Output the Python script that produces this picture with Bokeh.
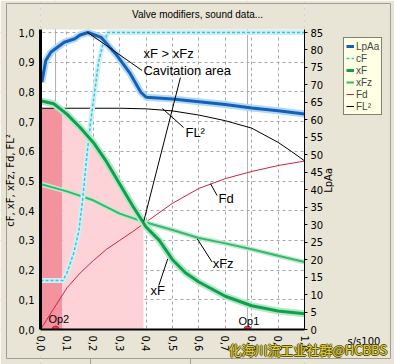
import numpy as np
from bokeh.plotting import figure
from bokeh.models import (Range1d, LinearAxis, FixedTicker, CustomJSTickFormatter,
                          Label, Legend, LegendItem, Span)
from bokeh.embed import file_html
from bokeh.resources import INLINE

# ---------------- data ----------------
lp_x = [0.005, 0.02, 0.04, 0.09, 0.13, 0.15, 0.18, 0.23, 0.29, 0.34, 0.38, 0.40, 0.5, 0.6, 0.7, 0.8, 0.9, 1.0]
lp_y = [70.8, 77.0, 79.4, 82.2, 83.2, 84.3, 85.0, 83.6, 78.4, 73.2, 67.9, 66.5, 66.0, 65.2, 64.4, 63.4, 62.6, 61.7]

cf_x = [0.0, 0.085, 0.10, 0.125, 0.145, 0.16, 0.175, 0.19, 0.205, 0.22, 0.235, 0.255, 1.0]
cf_y = [0.165, 0.165, 0.19, 0.255, 0.33, 0.44, 0.58, 0.70, 0.80, 0.90, 0.955, 1.0, 1.0]

xf_x = [0.0, 0.05, 0.1, 0.15, 0.2, 0.25, 0.3, 0.35, 0.4, 0.45, 0.5, 0.55, 0.6, 0.7, 0.8, 0.9, 1.0]
xf_y = [0.77, 0.76, 0.725, 0.68, 0.63, 0.565, 0.49, 0.415, 0.345, 0.30, 0.235, 0.19, 0.16, 0.112, 0.08, 0.062, 0.053]

xfz_x = [0.0, 0.1, 0.2, 0.3, 0.4, 0.5, 0.6, 0.7, 0.8, 0.9, 1.0]
xfz_y = [0.49, 0.465, 0.435, 0.39, 0.36, 0.335, 0.308, 0.29, 0.27, 0.248, 0.227]

fd_x = [0.0, 0.05, 0.1, 0.15, 0.2, 0.25, 0.3, 0.35, 0.4, 0.5, 0.6, 0.7, 0.8, 0.9, 1.0]
fd_y = [0.0, 0.07, 0.14, 0.19, 0.232, 0.27, 0.30, 0.33, 0.362, 0.425, 0.475, 0.508, 0.532, 0.552, 0.567]

fl2_x = [0.0, 0.1, 0.2, 0.3, 0.4, 0.5, 0.6, 0.7, 0.8, 0.9, 0.95, 1.0]
fl2_y = [0.745, 0.745, 0.745, 0.745, 0.743, 0.736, 0.722, 0.703, 0.678, 0.63, 0.60, 0.568]

cav_dark = [0.0, 0.083]     # choked part of cavitation area (s/s100)
cav_light = [0.083, 0.39]   # xF > xFz part

op_names = ["Op2", "Op1"]
op_x = [0.057, 0.784]

x_ticks = [0.0, 0.1, 0.2, 0.3, 0.4, 0.5, 0.6, 0.7, 0.8, 0.9, 1.0]
y_ticks = [0.0, 0.1, 0.2, 0.3, 0.4, 0.5, 0.6, 0.7, 0.8, 0.9, 1.0]
lp_ticks = list(range(0, 90, 5))
LP_MAX = 85.0

# ---------------- figure ----------------
BG = "#e8e5d6"
TF = "DejaVu Sans"
AF = "Liberation Sans"

W, H = 394, 364
PL, PB, PW, PH = 40, 329, 264, 297           # plot area: left px, bottom px, px per unit
X0, X1 = -PL / PW, (W - PL) / PW              # frame covers the whole canvas
Y0, Y1 = -(H - PB) / PH, PB / PH
YTOP = 1.01

def px(v):
    return (v - PL) / PW

def py(v):
    return (PB - v) / PH

p = figure(width=W, height=H, output_backend="svg", toolbar_location=None,
           x_range=Range1d(X0, X1), y_range=Range1d(Y0, Y1),
           min_border=0, min_border_left=0, min_border_right=0,
           min_border_top=0, min_border_bottom=0,
           background_fill_color="white", border_fill_color=BG, outline_line_color=None)
p.extra_y_ranges = {"lp": Range1d(Y0 * LP_MAX, Y1 * LP_MAX)}

fmt = CustomJSTickFormatter(code="return tick.toFixed(1).replace('.', ',');")

p.xaxis.fixed_location = 0
p.xaxis.bounds = (0, 1.0)
p.xaxis.ticker = FixedTicker(ticks=x_ticks)
p.xaxis.formatter = fmt
p.xaxis.major_label_orientation = "vertical"
p.xaxis.major_tick_out = 0
p.xaxis.major_tick_in = 0
p.xaxis.minor_tick_out = 0
p.xaxis.minor_tick_in = 0
p.xaxis.axis_line_width = 2
p.xaxis.major_label_standoff = 6
p.xaxis.major_label_text_font = TF
p.xaxis.major_label_text_font_size = "10px"
p.xaxis.major_label_text_color = "black"

p.yaxis.fixed_location = 0
p.yaxis.bounds = (0, YTOP)
p.yaxis.ticker = FixedTicker(ticks=y_ticks)
p.yaxis.formatter = fmt
p.yaxis.major_tick_out = 0
p.yaxis.major_tick_in = 0
p.yaxis.minor_tick_out = 0
p.yaxis.minor_tick_in = 0
p.yaxis.axis_line_width = 3
p.yaxis.major_label_standoff = 6
p.yaxis.major_label_text_font = TF
p.yaxis.major_label_text_font_size = "10px"
p.yaxis.major_label_text_color = "black"

ra = LinearAxis(y_range_name="lp", ticker=FixedTicker(ticks=lp_ticks),
                fixed_location=1.0, bounds=(0, YTOP * LP_MAX))
ra.major_tick_out = 3
ra.major_tick_in = 0
ra.minor_tick_out = 0
ra.minor_tick_in = 0
ra.major_label_standoff = 3
ra.major_label_text_font = TF
ra.major_label_text_font_size = "10px"
ra.major_label_text_color = "black"
p.add_layout(ra, "right")

for g in (p.xgrid, p.ygrid):
    g.grid_line_color = "#a6a6a6"
    g.grid_line_dash = "3 3"
    g.grid_line_width = 1
p.xgrid.ticker = FixedTicker(ticks=x_ticks)
p.ygrid.ticker = FixedTicker(ticks=y_ticks)

# operating point verticals
for xo in op_x:
    p.add_layout(Span(location=xo, dimension="height", line_color="#b0b0b0",
                      line_width=1, level="underlay"))

# cavitation areas
xd = np.linspace(cav_dark[0], cav_dark[1], 20)
p.varea(x=xd, y1=0, y2=np.interp(xd, fl2_x, fl2_y), fill_color="#f2939f")
xl = np.linspace(cav_light[0], cav_light[1], 60)
p.varea(x=xl, y1=0, y2=np.minimum(np.interp(xl, xf_x, xf_y), np.interp(xl, fl2_x, fl2_y)),
        fill_color="#fdd3d8")

# curves
r_fd = p.line(fd_x, fd_y, line_color="#c8283c", line_width=1)
r_fl = p.line(fl2_x, fl2_y, line_color="black", line_width=1)
p.line(xfz_x, xfz_y, line_color="#bfead0", line_width=5)
r_xfz = p.line(xfz_x, xfz_y, line_color="#38b86a", line_width=2)
p.line(cf_x, cf_y, line_color="#cdeff5", line_width=5)
r_cf = p.line(cf_x, cf_y, line_color="#3cc4d6", line_width=1.5, line_dash="3 2")
p.line(xf_x, xf_y, line_color="#b6e6c8", line_width=7)
r_xf = p.line(xf_x, xf_y, line_color="#0fa04e", line_width=3)
p.line(lp_x, lp_y, y_range_name="lp", line_color="#b2d8f4", line_width=7)
r_lp = p.line(lp_x, lp_y, y_range_name="lp", line_color="#1460b8", line_width=3)

p.scatter(op_x, [0, 0], size=7, fill_color="#e8404c", line_color="#c02030")

# pointer lines of the annotations
p.segment(x0=[0.177, 0.530, 0.462, 0.644, 0.594, 0.482],
          y0=[1.001, 0.848, 0.744, 0.491, 0.305, 0.238],
          x1=[0.385, 0.391, 0.542, 0.669, 0.650, 0.448],
          y1=[0.872, 0.364, 0.680, 0.451, 0.227, 0.148],
          line_color="black", line_width=1)

# window background outside the plotting area
p.quad(left=[X0, 1.0, 0.0, 0.0], right=[0.0, X1, 1.0, 1.0],
       bottom=[Y0, Y0, Y0, YTOP], top=[Y1, Y1, 0.0, Y1],
       fill_color=BG, line_color=None)

# window frame / status bar lines
p.segment(x0=[px(6), px(6), px(390), px(6), px(90), px(190)],
          y0=[py(3), py(3), py(3), py(358), py(358), py(358)],
          x1=[px(390), px(6), px(390), px(390), px(90), px(190)],
          y1=[py(3), py(358), py(358), py(358), py(364), py(364)],
          line_color="#a09e94", line_width=1)

def lab(x, y, t, size="13px", font=AF, align="left", color="black", angle=0, **kw):
    p.add_layout(Label(x=x, y=y, text=t, text_font=font, text_font_size=size,
                       text_align=align, text_baseline="middle", text_color=color,
                       angle=angle, **kw))

lab(0.390, 0.930, "xF > xFz")
lab(0.390, 0.873, "Cavitation area")
lab(0.549, 0.662, "FL²")
lab(0.674, 0.441, "Fd")
lab(0.652, 0.222, "xFz")
lab(0.417, 0.131, "xF")
lab(0.030, 0.034, op_names[0], size="11px")
lab(0.750, 0.030, op_names[1], size="11px")

# titles
lab(0.595, 1.061, "Valve modifiers, sound data...", size="10px", align="center")
lab(-0.112, 0.502, "cF, xF, xFz, Fd, FL²", size="10px", font=TF, align="center", angle=np.pi / 2)
lab(1.091, 0.502, "LpAa", size="10px", font=TF, align="center", angle=np.pi / 2)
lab(1.163, -0.040, "s/s100", size="10px", font=TF)

# watermark
wm = "化海川流工业社群@HCBBS"
for dx, dy in [(-1, 0), (1, 0), (0, -1), (0, 1)]:
    lab(0.712, -0.067, wm, size="13px", font="Noto Sans CJK SC", color="#5c5410",
        x_offset=dx, y_offset=dy)
lab(0.712, -0.067, wm, size="13px", font="Noto Sans CJK SC", color="#e2d23a")

legend = Legend(items=[LegendItem(label="LpAa", renderers=[r_lp]),
                       LegendItem(label="cF", renderers=[r_cf]),
                       LegendItem(label="xF", renderers=[r_xf]),
                       LegendItem(label="xFz", renderers=[r_xfz]),
                       LegendItem(label="Fd", renderers=[r_fd]),
                       LegendItem(label="FL²", renderers=[r_fl])],
                location=(343, H - 115), orientation="vertical",
                border_line_color="black", border_line_width=1,
                background_fill_color="#ffffe4", background_fill_alpha=1,
                label_text_font=AF, label_text_font_size="10px",
                glyph_width=8, glyph_height=12, label_height=12, label_standoff=2,
                spacing=0, padding=2, margin=0)
p.add_layout(legend)

open("out.html", "w").write(file_html(p, INLINE))
